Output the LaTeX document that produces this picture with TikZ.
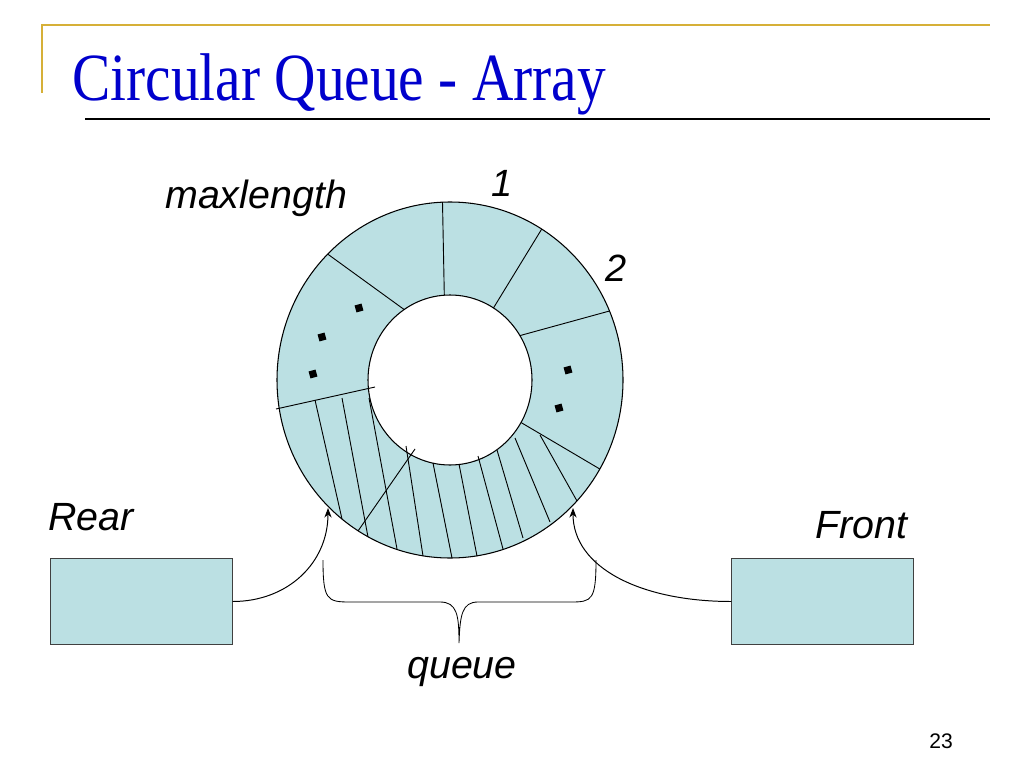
\documentclass[tikz,border=0pt]{standalone}
\usepackage{fontspec}
\setmainfont{Liberation Serif}
\newfontfamily\labelfont{Liberation Sans}
\usepackage{xcolor}
\usepackage{graphicx}
\usepackage{tikz}
\usetikzlibrary{arrows.meta}
\usetikzlibrary{positioning}

\definecolor{cellblue}{RGB}{187,224,227}
\definecolor{titleblue}{RGB}{0,0,204}
\definecolor{rulegold}{RGB}{214,176,56}

\begin{document}
\begin{tikzpicture}[
        x=0.025cm, y=-0.025cm,
        divider/.style={draw=black, line width=0.65pt},
        ptrbox/.style={rectangle, draw=black!75, fill=cellblue, line width=0.8pt, minimum width=4.53cm, minimum height=2.13cm, inner sep=0pt},
        arrow/.style={-{Stealth[length=2.4mm, width=1.8mm]}, line width=0.7pt},
        dotmark/.style={rectangle, fill=black, minimum size=1.8mm, inner sep=0pt, rotate=15},
        labeltext/.style={font=\labelfont\itshape\fontsize{28}{30}\selectfont, anchor=base west, inner sep=0pt},
        indextext/.style={font=\labelfont\itshape\fontsize{27}{29}\selectfont, anchor=base west, inner sep=0pt},
        titletext/.style={font=\fontsize{48}{50}\selectfont, text=titleblue, anchor=base west, inner sep=0pt}
    ]
    \useasboundingbox (0,0) rectangle (1024,768);

    % Title
    \draw[rulegold, line width=2pt] (42,93) -- (42,25) -- (990,25);
    \draw[line width=1.3pt] (85,119) -- (990,119);
    \node[titletext] (title) at (72,101) {\scalebox{0.85}[1]{Circular Queue - Array}};

    % Ring
    \coordinate (ctr) at (450,380);
    \fill[cellblue, even odd rule] (ctr) ellipse [x radius=173, y radius=178]
                                   (ctr) ellipse [x radius=82, y radius=85];
    \draw[line width=0.75pt] (ctr) ellipse [x radius=173, y radius=178]
                             (ctr) ellipse [x radius=82, y radius=85];

    % Cell dividers
    \foreach \xa/\ya/\xb/\yb in {442.5/202.2/444.3/295.2, 541.7/229.1/493.5/307.9,
                                 609.5/311/519.9/335.6, 599.8/469/521/422.5,
                                 327.7/254.1/404.1/309.5, 276/409/375/387,
                                 358/531/415/449}
        \draw[divider] (\xa,\ya) -- (\xb,\yb);

    % Occupied cells
    \foreach \xa/\ya/\xb/\yb in {315/400/342/519, 342/398/368/537, 369/398/397/549,
                                 406/446/423/556, 433/463/452/558, 459/464/477/556,
                                 478/456/503/549, 497/450/523/538, 515/438/550/522,
                                 540/435/577/501}
        \draw[divider] (\xa,\ya) -- (\xb,\yb);

    % Dots
    \foreach \px/\py [count=\k] in {359/308, 322/337, 313/374, 568/370, 559/408}
        \node[dotmark] (dot\k) at (\px,\py) {};

    % Labels
    \node[labeltext] (maxlabel) at (165,208) {maxlength};
    \node[indextext] (idxone) at (491,196) {1};
    \node[indextext] (idxtwo) at (605,281) {2};
    \node[labeltext] (rearlabel) at (48,530) {Rear};
    \node[labeltext] (frontlabel) at (815,538) {Front};
    \node[labeltext] (queuelabel) at (407,678) {queue};

    % Pointers
    \node[ptrbox] (rearbox) at (141.5,601.5) {};
    \node[ptrbox] (frontbox) at (822.5,601.5) {};
    \coordinate (reartip) at (328,508);
    \coordinate (fronttip) at (573,508);
    \draw[arrow] (rearbox.east) .. controls +(55,0) and +(0,55) .. (reartip);
    \draw[arrow] (frontbox.west) .. controls +(-90,0) and +(0,60) .. (fronttip);

    % Brace
    \draw[line width=0.6pt] (323,560) .. controls (323,600) and (327,602) .. (350,602) -- (440,602)
        .. controls (457,602) and (459,615) .. (459,643)
        .. controls (460,615) and (462,602) .. (478,602) -- (571,602)
        .. controls (592,602) and (596,600) .. (596,560);

    % Page number
    \node[font=\labelfont\fontsize{15}{17}\selectfont, anchor=base west, inner sep=0pt] (pagenum) at (929,748) {23};

\end{tikzpicture}
\end{document}
